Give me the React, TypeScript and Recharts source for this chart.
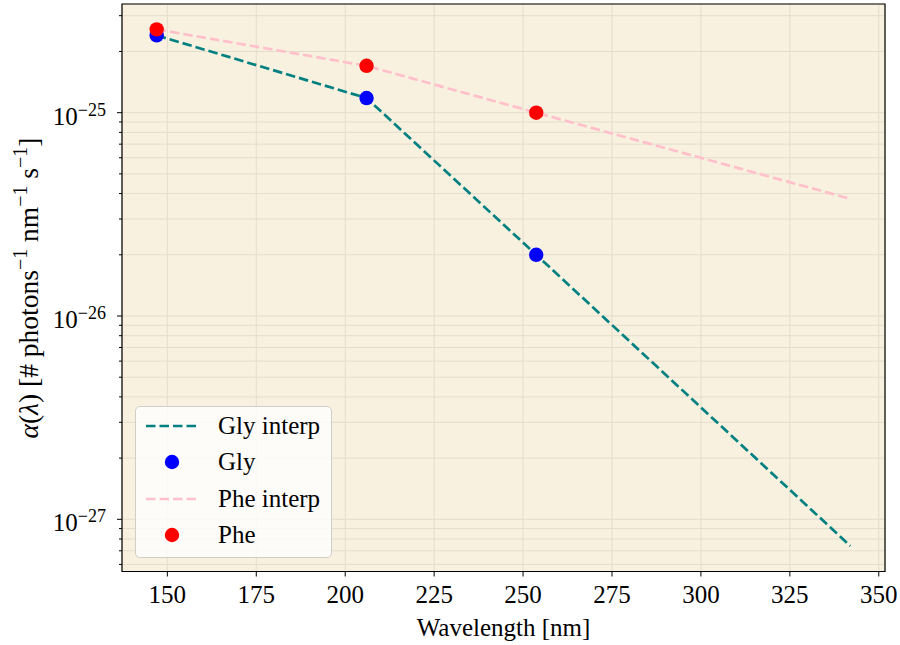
import React from 'react'
import { ComposedChart, Line, Scatter, XAxis, YAxis, CartesianGrid, ReferenceArea } from 'recharts'

// measured wavelengths (nm) and absorption values
const wavelengths = [147, 206, 253.7]
const glyValues = [2.4e-25, 1.18e-25, 2.0e-26]
const pheValues = [2.57e-25, 1.7e-25, 1.0e-25]

// interpolated curves (read at the same wavelengths plus the end of the range)
const interpWavelengths = [147, 206, 253.7, 342]
const glyInterp = [2.4e-25, 1.18e-25, 2.0e-26, 7.4e-28]
const pheInterp = [2.57e-25, 1.7e-25, 1.0e-25, 3.77e-26]

const xTicks = [150, 175, 200, 225, 250, 275, 300, 325, 350]
const majorTicks = [1e-27, 1e-26, 1e-25]
const minorTicks = [
  6e-28, 7e-28, 8e-28, 9e-28,
  2e-27, 3e-27, 4e-27, 5e-27, 6e-27, 7e-27, 8e-27, 9e-27,
  2e-26, 3e-26, 4e-26, 5e-26, 6e-26, 7e-26, 8e-26, 9e-26,
  2e-25, 3e-25,
]

const X_DOMAIN = [137.25, 351.75]
const Y_DOMAIN = [5.537e-28, 3.424e-25]

const FONT = "'Liberation Serif', 'DejaVu Serif', serif"
const BG = '#f8f1df'
const GRID = '#e4ddcd'
const PLOT_LEFT = 122
const PLOT_BOTTOM = 571.5
const DASH = '9.5 4'
const LINE_W = 2.7

const toRows = (xs: number[], ys: number[]) => xs.map((x, i) => ({ x, y: ys[i] }))
const glyData = toRows(wavelengths, glyValues)
const pheData = toRows(wavelengths, pheValues)
const glyInterpData = toRows(interpWavelengths, glyInterp)
const pheInterpData = toRows(interpWavelengths, pheInterp)

const isMajor = (v: number) => majorTicks.some(m => Math.abs(v / m - 1) < 1e-6)

const XTick = (props: any) => {
  const { x, payload } = props
  return (
    <g>
      <line x1={x} x2={x} y1={PLOT_BOTTOM} y2={PLOT_BOTTOM + 5} stroke="#000" strokeWidth={1} />
      <text x={x} y={PLOT_BOTTOM + 31.5} textAnchor="middle" fontFamily={FONT} fontSize={25} fill="#000">
        {payload.value}
      </text>
    </g>
  )
}

const YTick = (props: any) => {
  const { y, payload } = props
  const v = payload.value as number
  const major = isMajor(v)
  const exp = Math.round(Math.log10(v))
  return (
    <g>
      <line x1={PLOT_LEFT - (major ? 5 : 3)} x2={PLOT_LEFT} y1={y} y2={y} stroke="#000" strokeWidth={1} />
      {major && (
        <text x={106} y={y + 12} textAnchor="end" fontFamily={FONT} fill="#000">
          <tspan fontSize={25}>10</tspan>
          <tspan fontSize={18} dy={-9}>{'\u2212' + Math.abs(exp)}</tspan>
        </text>
      )}
    </g>
  )
}

const XLabel = () => (
  <text x={503.5} y={636} textAnchor="middle" fontFamily={FONT} fontSize={25} fill="#000">
    Wavelength [nm]
  </text>
)

const YLabel = () => (
  <text transform="translate(38,288) rotate(-90)" x={0} y={0} textAnchor="middle" fontFamily={FONT} fontSize={27.5} fill="#000">
    <tspan fontStyle="italic">α</tspan>
    <tspan>(</tspan>
    <tspan fontStyle="italic">λ</tspan>
    <tspan>) [# photons</tspan>
    <tspan fontSize={20} dy={-11}>{'\u22121'}</tspan>
    <tspan dy={11}> nm</tspan>
    <tspan fontSize={20} dy={-11}>{'\u22121'}</tspan>
    <tspan dy={11}> s</tspan>
    <tspan fontSize={20} dy={-11}>{'\u22121'}</tspan>
    <tspan dy={11}>]</tspan>
  </text>
)

const dot = (color: string) => (props: any) => <circle cx={props.cx} cy={props.cy} r={7.2} fill={color} />

const legendItems = [
  { label: 'Gly interp', kind: 'line', color: 'teal' },
  { label: 'Gly', kind: 'dot', color: 'blue' },
  { label: 'Phe interp', kind: 'line', color: 'pink' },
  { label: 'Phe', kind: 'dot', color: 'red' },
]

function LegendBox() {
  return (
    <div
      style={{
        position: 'absolute',
        left: 135,
        top: 406,
        width: 197,
        height: 152,
        border: '1.5px solid #d0cec8',
        borderRadius: 5,
        background: 'rgba(255,255,255,0.8)',
        boxSizing: 'border-box',
        fontFamily: FONT,
        fontSize: 25,
      }}
    >
      {legendItems.map((item, i) => (
        <div key={item.label} style={{ position: 'absolute', left: 0, top: 0.5 + i * 36.6, height: 36, width: '100%' }}>
          <svg width={70} height={36} style={{ position: 'absolute', left: 0, top: 0 }}>
            {item.kind === 'line' ? (
              <line x1={10} x2={62} y1={18} y2={18} stroke={item.color} strokeWidth={LINE_W} strokeDasharray={DASH} />
            ) : (
              <circle cx={36} cy={18} r={7.2} fill={item.color} />
            )}
          </svg>
          <span style={{ position: 'absolute', left: 82, top: 0, lineHeight: '36px', color: '#000' }}>{item.label}</span>
        </div>
      ))}
    </div>
  )
}

export default function App() {
  return (
    <div style={{ position: 'absolute', left: 0, top: 0, width: 900, height: 645, background: '#fff' }}>
      <ComposedChart width={900} height={645} margin={{ top: 4, right: 15, bottom: 0, left: 0 }}>
        <CartesianGrid stroke={GRID} strokeWidth={1} fill={BG} fillOpacity={1} />
        <XAxis
          type="number"
          dataKey="x"
          domain={X_DOMAIN}
          ticks={xTicks}
          interval={0}
          allowDataOverflow
          height={73.5}
          axisLine={false}
          tickLine={false}
          tick={<XTick />}
          label={<XLabel />}
        />
        <YAxis
          type="number"
          dataKey="y"
          scale="log"
          domain={Y_DOMAIN}
          ticks={[...majorTicks, ...minorTicks].sort((a, b) => a - b)}
          interval={0}
          allowDataOverflow
          width={122}
          axisLine={false}
          tickLine={false}
          tick={<YTick />}
          label={<YLabel />}
        />
        <Line
          data={glyInterpData}
          dataKey="y"
          type="linear"
          stroke="teal"
          strokeWidth={LINE_W}
          strokeDasharray={DASH}
          dot={false}
          activeDot={false}
          isAnimationActive={false}
        />
        <Scatter data={glyData} dataKey="y" shape={dot('blue')} isAnimationActive={false} />
        <Line
          data={pheInterpData}
          dataKey="y"
          type="linear"
          stroke="pink"
          strokeWidth={LINE_W}
          strokeDasharray={DASH}
          dot={false}
          activeDot={false}
          isAnimationActive={false}
        />
        <Scatter data={pheData} dataKey="y" shape={dot('red')} isAnimationActive={false} />
        <ReferenceArea
          x1={X_DOMAIN[0]}
          x2={X_DOMAIN[1]}
          y1={Y_DOMAIN[0]}
          y2={Y_DOMAIN[1]}
          fill="none"
          stroke="#000"
          strokeWidth={1.2}
          ifOverflow="visible"
        />
      </ComposedChart>
      <LegendBox />
    </div>
  )
}
